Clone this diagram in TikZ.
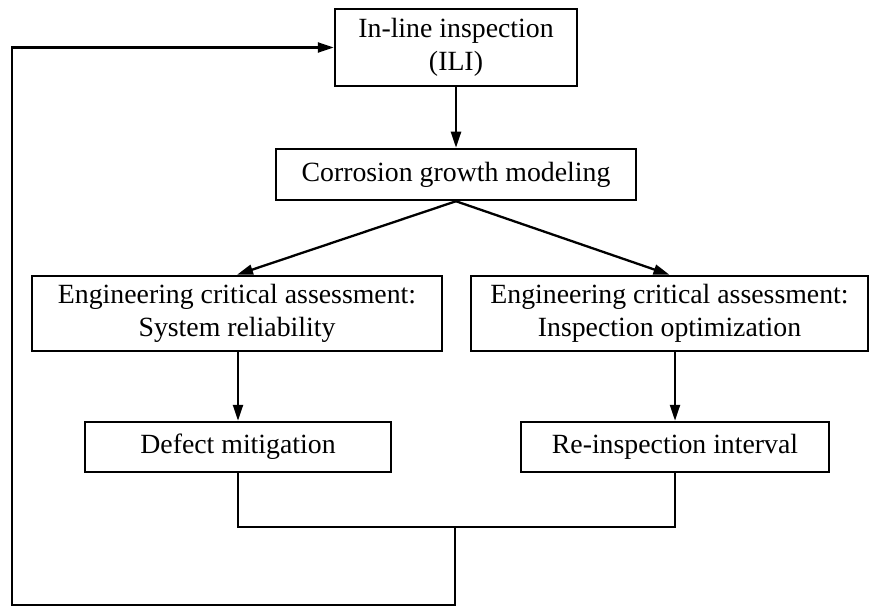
\documentclass[tikz,border=0pt]{standalone}
\usepackage{fontspec}
\setmainfont{Liberation Serif}
\usetikzlibrary{arrows.meta}
\begin{document}
\begin{tikzpicture}[x=1pt,y=-1pt,
  box/.style={draw, line width=2.5pt, inner sep=0pt, align=center,
    font=\fontsize{27.8}{33}\selectfont},
  conn/.style={line width=2.3pt},
  arr/.style={conn, -{Triangle[length=16pt,width=10pt]}}]
\useasboundingbox (0,0) rectangle (870,607);
\node[box, minimum width=242pt, minimum height=77pt] (ili) at (456,47.5) {In-line inspection\\(ILI)};
\node[box, minimum width=360pt, minimum height=51pt] (corr) at (456,174.5) {Corrosion growth modeling};
\node[box, minimum width=410pt, minimum height=75pt] (ecal) at (237,313.5) {Engineering critical assessment:\\System reliability};
\node[box, minimum width=397pt, minimum height=75pt] (ecar) at (669.5,313.5) {Engineering critical assessment:\\Inspection optimization};
\node[box, minimum width=306pt, minimum height=50pt] (def) at (238,447) {Defect mitigation};
\node[box, minimum width=308pt, minimum height=50pt] (rei) at (675,447) {Re-inspection interval};
\coordinate (j) at (455,527);
\coordinate (b) at (455,605);
\coordinate (c) at (12,605);
\draw[arr] (ili.south) -- (ili.south |- corr.north);
\draw[arr] (corr.south) -- (ecal.north);
\draw[arr] (corr.south) -- (ecar.north);
\draw[arr] (def.north |- ecal.south) -- (def.north);
\draw[arr] (rei.north |- ecar.south) -- (rei.north);
\draw[conn] (def.south) |- (j) -| (rei.south);
\draw[arr] (j) -- (b) -- (c) |- (ili.west);
\end{tikzpicture}
\end{document}
